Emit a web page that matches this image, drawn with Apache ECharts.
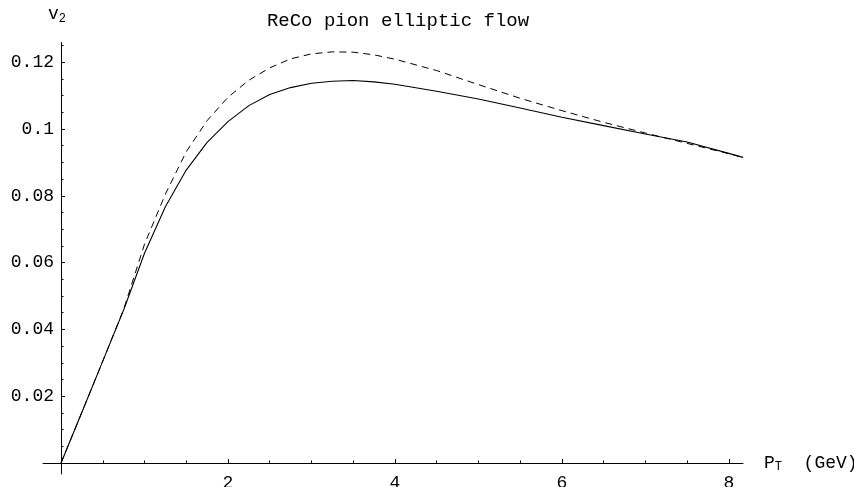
<!DOCTYPE html>
<html>
<head>
<meta charset="utf-8">
<title>ReCo pion elliptic flow</title>
<script src="https://cdn.jsdelivr.net/npm/echarts@6/dist/echarts.min.js"></script>
<style>
  html, body { margin: 0; padding: 0; background: #fff; }
  #chart { width: 854px; height: 487px; }
</style>
</head>
<body>
<div id="chart"></div>
<script>
// Transverse momentum grid (GeV)
const ptValues = [0, 0.25, 0.5, 0.75, 1.0, 1.25, 1.5, 1.75, 2.0, 2.25, 2.5, 2.75, 3.0,
  3.25, 3.5, 3.75, 4.0, 4.5, 5.0, 5.5, 6.0, 6.5, 7.0, 7.5, 8.0, 8.17];

// Elliptic flow v2, solid curve
const v2Solid = [0, 0.0152, 0.0305, 0.0458, 0.0628, 0.0767, 0.0877, 0.0960, 0.1022,
  0.1070, 0.1103, 0.1124, 0.1137, 0.1143, 0.1145, 0.1141, 0.1134, 0.1113, 0.1090,
  0.1063, 0.1035, 0.1010, 0.0985, 0.0961, 0.0927, 0.0915];

// Elliptic flow v2, dashed curve
const v2Dashed = [0, 0.0152, 0.0305, 0.0460, 0.0655, 0.0805, 0.0932, 0.1025, 0.1095,
  0.1146, 0.1183, 0.1210, 0.1225, 0.1231, 0.1230, 0.1222, 0.1209, 0.1175, 0.1133,
  0.1092, 0.1055, 0.1020, 0.0988, 0.0957, 0.0926, 0.0915];

// Tick positions
const xMajorTicks = [2, 4, 6, 8];
const xMinorTicks = [0.5, 1, 1.5, 2.5, 3, 3.5, 4.5, 5, 5.5, 6.5, 7, 7.5];
const yMajorTicks = [0.02, 0.04, 0.06, 0.08, 0.1, 0.12];
const yMinorTicks = [0.005, 0.01, 0.015, 0.025, 0.03, 0.035, 0.045, 0.05, 0.055,
  0.065, 0.07, 0.075, 0.085, 0.09, 0.095, 0.105, 0.11, 0.115, 0.125];

const FONT = 'Liberation Mono';
const X_MIN = -0.216, X_MAX = 8.17;
const Y_MIN = -0.0033, Y_MAX = 0.1259;

const pairs = (xs, ys) => xs.map((x, i) => [x, ys[i]]);

const chart = echarts.init(document.getElementById('chart'), null, { renderer: 'canvas' });

const axisText = { fontFamily: FONT, fontSize: 18, color: '#000' };
const lineStyle = { color: '#000', width: 1 };

chart.setOption({
  animation: false,
  backgroundColor: '#fff',
  textStyle: { fontFamily: FONT },
  title: {
    text: 'ReCo pion elliptic flow',
    left: 393,
    top: 6,
    textAlign: 'center',
    textStyle: { fontFamily: FONT, fontSize: 19, fontWeight: 'normal', color: '#000' }
  },
  grid: { left: 43, right: 111, top: 42.5, bottom: 13, containLabel: false, outerBoundsMode: 'none' },
  xAxis: [
    {
      type: 'value', min: X_MIN, max: X_MAX,
      axisLine: { onZero: true, onZeroAxisIndex: 0, lineStyle: lineStyle },
      axisTick: { inside: true, length: 4, customValues: xMajorTicks, lineStyle: lineStyle },
      axisLabel: Object.assign({ customValues: xMajorTicks, margin: 0 }, axisText),
      splitLine: { show: false },
      name: '{a|P}{s|T}{a|  (GeV)}',
      nameLocation: 'end',
      nameGap: 21,
      nameTextStyle: {
        rich: {
          a: { fontFamily: FONT, fontSize: 18, color: '#000', verticalAlign: 'bottom' },
          s: { fontFamily: FONT, fontSize: 12, color: '#000', verticalAlign: 'bottom', padding: [0, 0, -1, 0] }
        }
      }
    },
    {
      type: 'value', min: X_MIN, max: X_MAX, position: 'bottom',
      axisLine: { show: false, onZero: true, onZeroAxisIndex: 0 },
      axisTick: { inside: true, length: 2.5, customValues: xMinorTicks, lineStyle: lineStyle },
      axisLabel: { show: false },
      splitLine: { show: false }
    }
  ],
  yAxis: [
    {
      type: 'value', min: Y_MIN, max: Y_MAX,
      axisLine: { onZero: true, onZeroAxisIndex: 0, lineStyle: lineStyle },
      axisTick: { inside: true, length: 4, customValues: yMajorTicks, lineStyle: lineStyle },
      axisLabel: Object.assign({ customValues: yMajorTicks, margin: -11 }, axisText),
      splitLine: { show: false },
      name: '{a|v}{s|2}',
      nameLocation: 'end',
      nameGap: 19,
      nameTextStyle: {
        padding: [0, 8, 0, 0],
        rich: {
          a: { fontFamily: FONT, fontSize: 18, color: '#000', verticalAlign: 'bottom' },
          s: { fontFamily: FONT, fontSize: 12, color: '#000', verticalAlign: 'bottom', padding: [0, 0, -1, 0] }
        }
      }
    },
    {
      type: 'value', min: Y_MIN, max: Y_MAX, position: 'left',
      axisLine: { show: false, onZero: true, onZeroAxisIndex: 0 },
      axisTick: { inside: true, length: 2.5, customValues: yMinorTicks, lineStyle: lineStyle },
      axisLabel: { show: false },
      splitLine: { show: false }
    }
  ],
  series: [
    {
      name: 'dashed',
      type: 'line',
      data: pairs(ptValues, v2Dashed),
      showSymbol: false,
      symbol: 'none',
      smooth: false,
      lineStyle: { color: '#000', width: 1, type: [7, 5] }
    },
    {
      name: 'solid',
      type: 'line',
      data: pairs(ptValues, v2Solid),
      showSymbol: false,
      symbol: 'none',
      smooth: false,
      lineStyle: { color: '#000', width: 1.1, type: 'solid' }
    }
  ]
});
</script>
</body>
</html>
